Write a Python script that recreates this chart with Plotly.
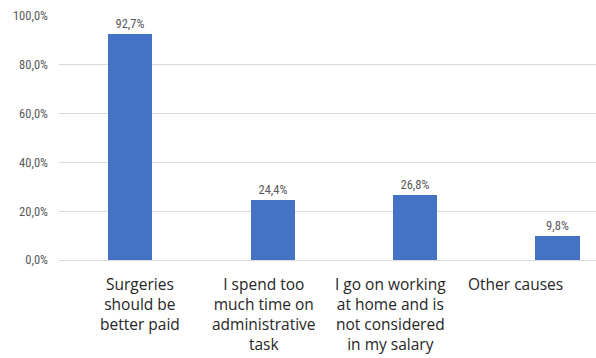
import plotly.graph_objects as go

categories = [
    "Surgeries<br>should be<br>better paid",
    "I spend too<br>much time on<br>administrative<br>task",
    "I go on working<br>at home and is<br>not considered<br>in my salary",
    "Other causes",
]
values = [92.7, 24.4, 26.8, 9.8]
y_ticks = [0, 20, 40, 60, 80, 100]
y_tick_labels = ["0,0%", "20,0%", "40,0%", "60,0%", "80,0%", "100,0%"]

# horizontal nudges (px) of the wrapped category captions under each bar
label_shifts = [10, -9, -25, -42]

narrow = "Liberation Sans Narrow, Roboto Condensed, Roboto"

fig = go.Figure(
    go.Bar(
        x=list(range(len(categories))),
        y=values,
        width=0.31,
        marker=dict(color="#4472C4", line=dict(width=0)),
        texttemplate="%{y:.1f}%",
        textposition="outside",
        textfont=dict(family=narrow, size=12.5, color="#595959"),
        cliponaxis=False,
    )
)

for i, (label, dx) in enumerate(zip(categories, label_shifts)):
    fig.add_annotation(
        x=i, xref="x",
        y=0, yref="paper",
        yanchor="top", xanchor="center",
        yshift=-11, xshift=dx,
        text=label, showarrow=False, align="center",
        font=dict(family="Open Sans", size=15.5, color="#262626"),
    )

fig.update_layout(
    width=596,
    height=358,
    margin=dict(l=59, r=0, t=16, b=98),
    paper_bgcolor="white",
    plot_bgcolor="white",
    separators=",.",
    showlegend=False,
    bargap=0,
)

fig.update_xaxes(
    range=[-0.5, 3.27],
    showticklabels=False,
    showgrid=False,
    showline=True,
    linecolor="#d9d9d9",
    linewidth=1,
    ticks="",
)

fig.update_yaxes(
    range=[0, 100],
    tickmode="array",
    tickvals=y_ticks,
    ticktext=y_tick_labels,
    tickfont=dict(family=narrow, size=12.5, color="#595959"),
    showgrid=True,
    gridcolor="#d9d9d9",
    gridwidth=1,
    zeroline=False,
    showline=False,
    ticks="",
    ticklabelstandoff=10,
)

fig.write_html("out.html")
